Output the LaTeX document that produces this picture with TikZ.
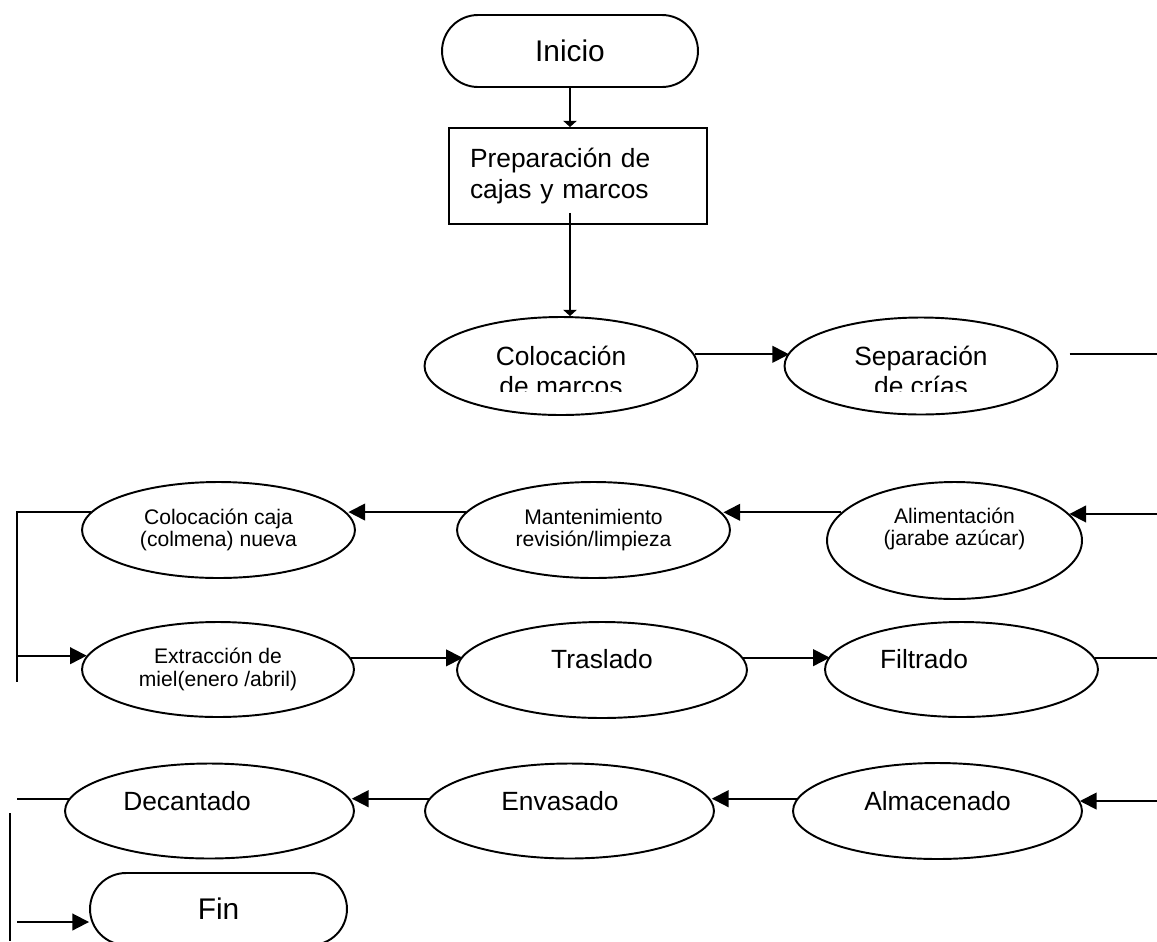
\documentclass[tikz,border=0pt]{standalone}
\usepackage{fontspec}
\setmainfont{Liberation Sans}
\usetikzlibrary{arrows.meta,shapes.geometric,shapes.misc}

\begin{document}
\begin{tikzpicture}[x=0.02cm, y=-0.02cm,
        ovalo/.style={draw, ellipse, line width=1.1pt, inner sep=0pt},
        terminal/.style={draw, rounded rectangle, line width=1.1pt, inner sep=0pt},
        proceso/.style={draw, rectangle, line width=1.1pt},
        grande/.style={font=\fontsize{17}{20}\selectfont, inner sep=0pt},
        texto/.style={font=\fontsize{15}{17.5}\selectfont, align=center, inner sep=0pt},
        chico/.style={font=\fontsize{12}{12.3}\selectfont, align=center, inner sep=0pt},
        flecha/.style={line width=1.1pt, -{Triangle[length=9.5pt,width=9.5pt]}},
        flechita/.style={line width=1.1pt, -{Triangle[length=3.5pt,width=7.5pt]}},
        linea/.style={line width=1.1pt}]
        \useasboundingbox (0,0) rectangle (1157,941);
        \node[terminal, grande, minimum width=5.12cm, minimum height=1.44cm] (inicio) at (570,51) {Inicio};
        \node[proceso, texto, align=left, inner sep=0pt, text width=4.32cm, minimum width=5.16cm, minimum height=1.92cm] (prep) at (578,176) {Preparación de\\cajas y marcos};
        \node[ovalo, minimum width=5.46cm, minimum height=1.96cm] (colmarcos) at (561,366) {};
        \node[ovalo, minimum width=5.46cm, minimum height=1.94cm] (separacion) at (921,366) {};
        \begin{scope}
        \clip (400,300) rectangle (1100,391);
        \node[texto] (tcolmarcos) at (561,371) {Colocación\\de marcos};
        \node[texto] (tseparacion) at (921,371) {Separación\\de crías};
        \end{scope}
        \node[ovalo, minimum width=5.46cm, minimum height=1.92cm, label={[chico]center:{Colocación caja\\(colmena) nueva}}] (colcaja) at (218.5,530) {};
        \node[ovalo, minimum width=5.46cm, minimum height=1.92cm, label={[chico]center:{Mantenimiento\\revisión/limpieza}}] (mant) at (593.5,530) {};
        \node[ovalo, minimum width=5.1cm, minimum height=2.34cm, label={[chico, yshift=0.23cm]center:{Alimentación\\(jarabe azúcar)}}] (alim) at (954.5,540.5) {};
        \node[ovalo, minimum width=5.44cm, minimum height=1.9cm, label={[chico, font=\fontsize{12}{13.5}\selectfont]center:{Extracción de\\miel(enero /abril)}}] (extrac) at (218,669.5) {};
        \node[ovalo, minimum width=5.8cm, minimum height=1.92cm, label={[texto, yshift=0.22cm]center:Traslado}] (traslado) at (602,670) {};
        \node[ovalo, minimum width=5.46cm, minimum height=1.9cm, label={[texto, xshift=-0.75cm, yshift=0.21cm]center:Filtrado}] (filtrado) at (961.5,669.5) {};
        \node[ovalo, minimum width=5.78cm, minimum height=1.9cm, label={[texto, xshift=-0.45cm, yshift=0.19cm]center:Decantado}] (decant) at (209.5,811) {};
        \node[ovalo, minimum width=5.78cm, minimum height=1.9cm, label={[texto, xshift=-0.19cm, yshift=0.19cm]center:Envasado}] (envas) at (569.5,811) {};
        \node[ovalo, minimum width=5.78cm, minimum height=1.92cm, label={[texto, yshift=0.19cm]center:Almacenado}] (almac) at (937.5,811) {};
        \node[terminal, grande, minimum width=5.14cm, minimum height=1.44cm] (fin) at (218.5,909) {Fin};
        \coordinate (salida1) at (1157,353);
        \coordinate (entrada2) at (1157,513);
        \coordinate (retorno) at (17,682);
        \coordinate (salida3) at (1157,656);
        \coordinate (entrada4) at (1157,799);
        \coordinate (salida4) at (17,799);
        \coordinate (bajada) at (10,813);
        \coordinate (fondo) at (10,941);
        \coordinate (llegada) at (17,922);
        \draw[flechita] (inicio.south) -- (inicio.south |- prep.north);
        \draw[flechita, shorten <=-0.24cm] (inicio.south |- prep.south) -- (inicio.south |- colmarcos.north);
        \draw[flecha] (colmarcos.5.6) -- (colmarcos.5.6 -| separacion.174.4);
        \draw[linea, shorten <=0.3cm] (separacion.5.6) -- (separacion.5.6 -| salida1);
        \draw[flecha] (entrada2 |- alim.13.7) -- (alim.13.7);
        \draw[flecha] (alim.166.3) -- (alim.166.3 -| mant.7.6);
        \draw[flecha] (mant.172.4) -- (mant.172.4 -| colcaja.7.6);
        \draw[linea] (colcaja.172.4) -- (colcaja.172.4 -| retorno) -- (retorno);
        \draw[flecha] (retorno |- extrac.174.1) -- (extrac.174.1);
        \draw[flecha] (extrac.5.9) -- (extrac.5.9 -| traslado.174.2);
        \draw[flecha] (traslado.5.8) -- (traslado.5.8 -| filtrado.174.1);
        \draw[linea] (filtrado.5.9) -- (filtrado.5.9 -| salida3);
        \draw[flecha] (entrada4 |- almac.4.9) -- (almac.4.9);
        \draw[flecha] (almac.175.1) -- (almac.175.1 -| envas.4.9);
        \draw[flecha] (envas.175.1) -- (envas.175.1 -| decant.4.9);
        \draw[linea] (decant.175.1) -- (decant.175.1 -| salida4);
        \draw[linea] (bajada) -- (fondo);
        \draw[flecha] (llegada) -- (llegada -| fin.west);
\end{tikzpicture}
\end{document}
